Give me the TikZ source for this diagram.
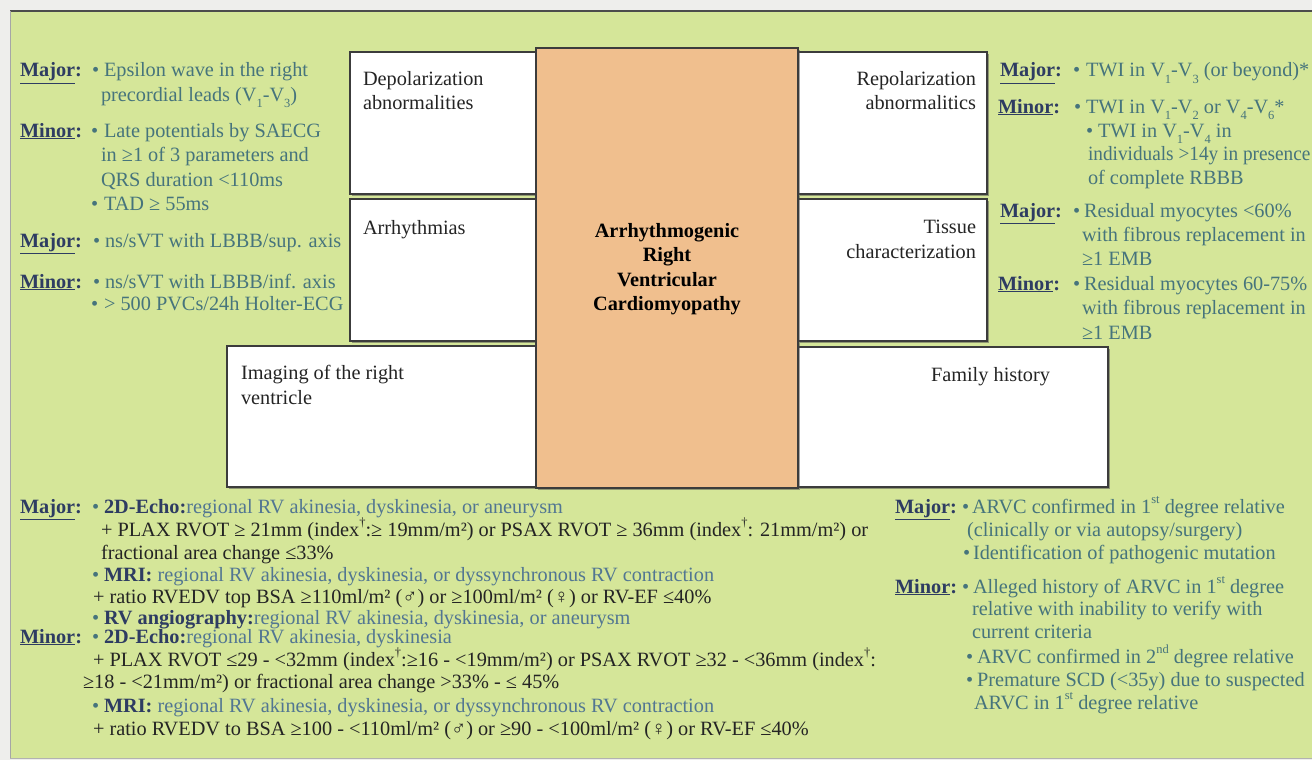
\documentclass[tikz,border=0pt]{standalone}
\usepackage{fontspec}
\setmainfont{Liberation Serif}
\usetikzlibrary{shadows}
\definecolor{bggreen}{RGB}{213,230,153}
\definecolor{paper}{RGB}{238,238,236}
\definecolor{rvorange}{RGB}{240,191,142}
\definecolor{labcol}{RGB}{46,60,98}
\definecolor{tealcol}{RGB}{70,116,124}
\definecolor{regcol}{RGB}{82,118,146}
\definecolor{blk}{RGB}{36,36,36}
\definecolor{edge}{RGB}{60,60,60}
\newcommand{\vsub}[1]{\raisebox{-0.3em}{\fontsize{12.5}{12.5}\selectfont #1}}
\newcommand{\vsup}[1]{\raisebox{0.45em}{\fontsize{12.5}{12.5}\selectfont #1}}
\newcommand{\bb}[1]{{\bfseries\color{labcol}#1}}
\newcommand{\rg}[1]{{\color{regcol}#1}}
\begin{document}
\begin{tikzpicture}[x=1pt,y=-1pt,
  every node/.style={inner sep=0pt, outer sep=0pt, font=\fontsize{20.3}{24.5}\selectfont},
  lab/.style={anchor=base west, text=labcol, font=\fontsize{20.3}{24.5}\selectfont\bfseries},
  txt/.style={anchor=base west, text=tealcol},
  dark/.style={anchor=base west, text=blk},
  box/.style={draw=edge, line width=1.3pt, fill=white, anchor=north west,
    drop shadow={shadow xshift=1.5pt, shadow yshift=-2pt, fill=black!70, opacity=0.5}},
  boxlab/.style={text=blk, align=left}
]
\useasboundingbox (0,0) rectangle (1312,760);
% background
\fill[paper] (0,0) rectangle (1312,760);
\fill[bggreen] (10,11) rectangle (1312,758);
\draw[black!70, line width=1.5pt] (10,11) -- (1312,11);
\draw[black!35, line width=1pt] (10,11) -- (10,758);
\draw[black!30, line width=1pt] (10,758) -- (1312,758);

% boxes
\node[box, minimum width=187pt, minimum height=142pt] (depol) at (350,52) {};
\node[box, minimum width=187pt, minimum height=142pt] (arrh) at (350,199) {};
\node[box, minimum width=310pt, minimum height=141pt] (imag) at (227,346) {};
\node[box, minimum width=189pt, minimum height=142pt] (repol) at (798,52) {};
\node[box, minimum width=189pt, minimum height=142pt] (tiss) at (798,199) {};
\node[box, minimum width=310pt, minimum height=140pt] (fam) at (798,347) {};
\node[box, fill=rvorange, minimum width=262pt, minimum height=440pt] (arvc) at (536,48) {};

% box labels
\node[boxlab, anchor=base west] (depoll) at (363,85) {Depolarization};
\node[boxlab, anchor=base west] (depoll2) at (363,110) {abnormalities};
\node[boxlab, anchor=base west] (arrhl) at (363,234) {Arrhythmias};
\node[boxlab, anchor=base east] (repoll) at (976,85) {Repolarization};
\node[boxlab, anchor=base east] (repoll2) at (976,110) {abnormalitics};
\node[boxlab, anchor=base east] (tissl) at (976,233) {Tissue};
\node[boxlab, anchor=base east] (tissl2) at (976,258) {characterization};
\node[boxlab, anchor=base west] (imagl) at (241,379) {Imaging of the right};
\node[boxlab, anchor=base west] (imagl2) at (241,404) {ventricle};
\node[boxlab, anchor=base west] (faml) at (931,381) {Family history};
\node[text=black, align=center, font=\fontsize{20.3}{24.5}\selectfont\bfseries] (arvcl) at (667,269)
  {Arrhythmogenic\\Right\\Ventricular\\Cardiomyopathy};

% left top column
\node[lab] (l1a) at (20,77) {\underline{Major}:};
\node[txt] (l1b) at (92,77) {•};
\node[txt] (l1c) at (104,77) {Epsilon wave in the right};
\node[txt] (l2) at (101,101) {precordial leads (V\vsub{1}-V\vsub{3})};
\node[lab] (l3a) at (20,137) {\underline{Minor}:};
\node[txt] (l3b) at (91,137) {•};
\node[txt] (l3c) at (104,137) {Late potentials by SAECG};
\node[txt] (l4) at (101,161) {in ≥1 of 3 parameters and};
\node[txt] (l5) at (101,186) {QRS duration <110ms};
\node[txt] (l6b) at (91,210) {•};
\node[txt] (l6c) at (104,210) {TAD ≥ 55ms};
\node[lab] (l7a) at (20,247) {\underline{Major}:};
\node[txt] (l7b) at (93,247) {•};
\node[txt] (l7c) at (105,247) {ns/sVT with LBBB/sup. axis};
\node[lab] (l8a) at (20,288) {\underline{Minor}:};
\node[txt] (l8b) at (93,288) {•};
\node[txt] (l8c) at (105,288) {ns/sVT with LBBB/inf. axis};
\node[txt] (l9b) at (91,310) {•};
\node[txt] (l9c) at (104,310) {> 500 PVCs/24h Holter-ECG};

% right top column
\node[lab] (r1a) at (1000,77) {\underline{Major}:};
\node[txt] (r1b) at (1073,77) {•};
\node[txt] (r1c) at (1086,77) {TWI in V\vsub{1}-V\vsub{3} (or beyond)*};
\node[lab] (r2a) at (998,113) {\underline{Minor}:};
\node[txt] (r2b) at (1074,113) {•};
\node[txt] (r2c) at (1086,113) {TWI in V\vsub{1}-V\vsub{2} or V\vsub{4}-V\vsub{6}*};
\node[txt] (r3b) at (1086,137) {•};
\node[txt] (r3c) at (1098,137) {TWI in V\vsub{1}-V\vsub{4} in};
\node[txt] (r4) at (1088,160) {\scalebox{0.95}[1]{individuals >14y in presence}};
\node[txt] (r5) at (1088,184) {of complete RBBB};
\node[lab] (r6a) at (1000,217) {\underline{Major}:};
\node[txt] (r6b) at (1073,217) {•};
\node[txt] (r6c) at (1084,217) {Residual myocytes <60\%};
\node[txt] (r7) at (1082,241) {with fibrous replacement in};
\node[txt] (r8) at (1082,265) {≥1 EMB};
\node[lab] (r9a) at (998,290) {\underline{Minor}:};
\node[txt] (r9b) at (1073,290) {•};
\node[txt] (r9c) at (1084,290) {Residual myocytes 60-75\%};
\node[txt] (r10) at (1082,314) {with fibrous replacement in};
\node[txt] (r11) at (1082,339) {≥1 EMB};

% bottom left
\node[lab] (b1a) at (20,513) {\underline{Major}:};
\node[txt] (b1b) at (92,513) {•};
\node[dark] (b1c) at (104,513) {\bb{2D-Echo:}\rg{regional RV akinesia, dyskinesia, or aneurysm}};
\node[dark] (b2) at (101,536) {+ PLAX RVOT ≥ 21mm (index\vsup{†}:≥ 19mm/m²) or PSAX RVOT ≥ 36mm (index\vsup{†}: 21mm/m²) or};
\node[dark] (b3) at (101,559) {fractional area change ≤33\%};
\node[txt] (b4b) at (92,581) {•};
\node[dark] (b4c) at (104,581) {\bb{MRI:} \rg{regional RV akinesia, dyskinesia, or dyssynchronous RV contraction}};
\node[dark] (b5) at (93,603) {+ ratio RVEDV top BSA ≥110ml/m² (♂) or ≥100ml/m² (♀) or RV-EF ≤40\%};
\node[txt] (b6b) at (92,624) {•};
\node[dark] (b6c) at (104,624) {\bb{RV angiography:}\rg{regional RV akinesia, dyskinesia, or aneurysm}};
\node[lab] (b7a) at (20,643) {\underline{Minor}:};
\node[txt] (b7b) at (92,643) {•};
\node[dark] (b7c) at (104,643) {\bb{2D-Echo:}\rg{regional RV akinesia, dyskinesia}};
\node[dark] (b8) at (93,666) {+ PLAX RVOT ≤29 - <32mm (index\vsup{†}:≥16 - <19mm/m²) or PSAX RVOT ≥32 - <36mm (index\vsup{†}:};
\node[dark] (b9) at (83,688) {≥18 - <21mm/m²) or fractional area change >33\% - ≤ 45\%};
\node[txt] (b10b) at (92,712) {•};
\node[dark] (b10c) at (104,712) {\bb{MRI:} \rg{regional RV akinesia, dyskinesia, or dyssynchronous RV contraction}};
\node[dark] (b11) at (93,735) {+ ratio RVEDV to BSA ≥100 - <110ml/m² (♂) or ≥90 - <100ml/m² (♀) or RV-EF ≤40\%};

% bottom right
\node[lab] (f1a) at (895,513) {\underline{Major}:};
\node[txt] (f1b) at (962,513) {•};
\node[txt] (f1c) at (972,513) {ARVC confirmed in 1\vsup{st} degree relative};
\node[txt] (f2) at (967,536) {(clinically or via autopsy/surgery)};
\node[txt] (f3b) at (963,559) {•};
\node[txt] (f3c) at (973,559) {Identification of pathogenic mutation};
\node[lab] (f4a) at (895,593) {\underline{Minor}:};
\node[txt] (f4b) at (962,593) {•};
\node[txt] (f4c) at (973,593) {Alleged history of ARVC in 1\vsup{st} degree};
\node[txt] (f5) at (972,615) {relative with inability to verify with};
\node[txt] (f6) at (972,638) {current criteria};
\node[txt] (f7b) at (966,663) {•};
\node[txt] (f7c) at (977,663) {ARVC confirmed in 2\vsup{nd} degree relative};
\node[txt] (f8b) at (966,686) {•};
\node[txt] (f8c) at (977,686) {Premature SCD (<35y) due to suspected};
\node[txt] (f9) at (974,709) {ARVC in 1\vsup{st} degree relative};
\end{tikzpicture}
\end{document}
